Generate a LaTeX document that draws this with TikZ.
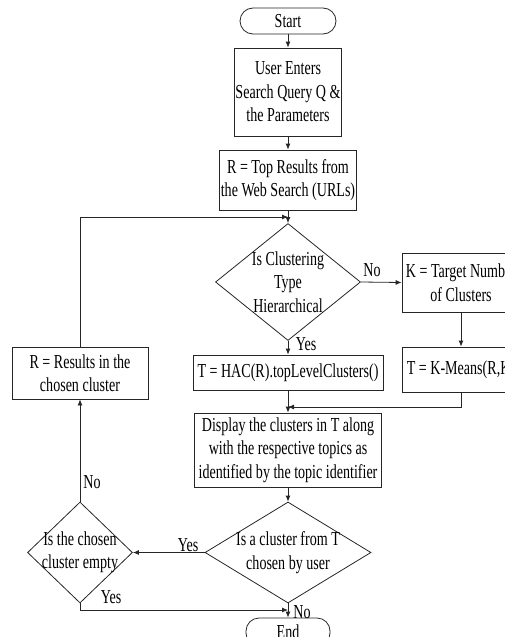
\documentclass[tikz,border=0pt]{standalone}
\usepackage{fontspec}
\setmainfont{Liberation Serif}[FakeStretch=0.71]
\usetikzlibrary{shapes.geometric,arrows.meta}
\begin{document}
\begin{tikzpicture}[x=1pt,y=-1pt,
  every node/.style={font=\fontsize{19.8}{23.5}\selectfont, text=black},
  box/.style={draw=black!85, line width=0.8pt, rectangle, inner sep=1pt, align=center},
  term/.style={draw=black!85, line width=0.8pt, rectangle, rounded corners=13pt, inner sep=1pt},
  dia/.style={draw=black!85, line width=0.8pt, diamond, inner sep=0pt},
  txt/.style={align=center, inner sep=0pt},
  lbl/.style={inner sep=0pt},
  arr/.style={draw=black!85, line width=0.8pt, -{Latex[length=6pt,width=5pt]}},
  ln/.style={draw=black!85, line width=0.8pt}]
\useasboundingbox (0,0) rectangle (505,637);
\clip (0,0) rectangle (505,637);
% nodes
\node[term, minimum width=96, minimum height=26] (start) at (288,21) {Start};
\node[box, minimum width=104, minimum height=88] (b1) at (288,92) {User Enters\\Search Query Q \&\\the Parameters};
\node[box, minimum width=135, minimum height=60] (b2) at (288,180) {R = Top Results from\\the Web Search (URLs)};
\node[dia, minimum width=145, minimum height=117] (d1) at (288,282) {};
\node[txt] at (d1) {Is Clustering\\Type\\Hierarchical};
\node[box, minimum width=118, minimum height=59] (kb) at (461,282.5) {K = Target Number\\of Clusters};
\node[box, minimum width=118, minimum height=45] (km) at (461,369.5) {T = K-Means(R,K)};
\node[box, minimum width=190, minimum height=35] (hac) at (288,372.5) {T = HAC(R).topLevelClusters()};
\node[box, minimum width=187, minimum height=74] (disp) at (288,450) {Display the clusters in T along\\with the respective topics as\\identified by the topic identifier};
\node[dia, minimum width=166, minimum height=101] (d2) at (288,552.5) {};
\node[txt] at (d2) {Is a cluster from T\\chosen by user};
\node[dia, minimum width=105, minimum height=101] (d3) at (80,552.5) {};
\node[txt] at (d3) {Is the chosen\\cluster empty};
\node[box, minimum width=136, minimum height=52] (rb) at (80,373) {R = Results in the\\chosen cluster};
\node[term, minimum width=84, minimum height=28] (end) at (288,632) {End};
% junction coordinates
\coordinate (j1) at (288,217);
\coordinate (j2) at (288,407);
\coordinate (j3) at (288,610);
% connectors
\draw[arr] (start) -- (b1);
\draw[arr] (b1) -- (b2);
\draw[arr] (b2) -- (d1);
\draw[arr] (rb.north) |- (j1);
\draw[arr] (d1.east) -- (kb.west);
\draw[arr] (kb) -- (km);
\draw[arr] (d1.south) -- (hac);
\draw[arr] (hac) -- (disp);
\draw[arr] (km.south) |- (j2);
\draw[arr] (disp) -- (d2);
\draw[arr] (d2.west) -- (d3.east);
\draw[arr] (d3.north) -- (rb.south);
\draw[arr] (d3.south) |- (j3);
\draw[arr] (d2.south) -- (end.north);
% labels
\node[lbl] at (372,270) {No};
\node[lbl] at (306,344) {Yes};
\node[lbl] at (188,545) {Yes};
\node[lbl] at (92,482) {No};
\node[lbl] at (111,597) {Yes};
\node[lbl] at (302,612) {No};
\end{tikzpicture}
\end{document}
